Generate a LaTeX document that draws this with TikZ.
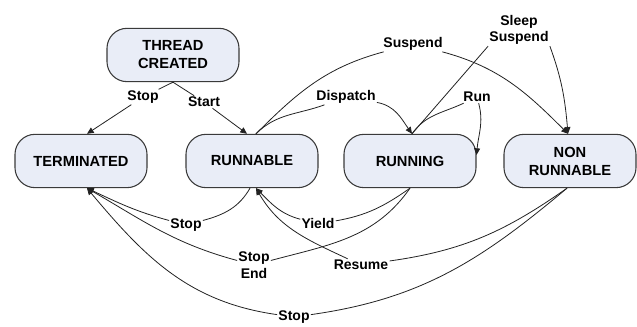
\documentclass[tikz,border=0pt]{standalone}
\usepackage{fontspec}
\setmainfont{Liberation Sans}
\usetikzlibrary{arrows.meta}
\definecolor{statefill}{HTML}{E9EDF7}
\definecolor{stateline}{HTML}{3A3A3A}
\definecolor{edgeline}{HTML}{222222}
\tikzset{
  statebox/.style={draw=stateline, line width=0.8pt, fill=statefill, rounded corners=15pt,
    minimum width=99pt, minimum height=40pt, align=center, inner sep=2pt,
    font=\fontsize{11}{13.5}\selectfont\bfseries},
  lbl/.style={fill=white, inner sep=0.8pt, align=center,
    font=\fontsize{10.5}{12.5}\selectfont\bfseries},
  edge/.style={draw=edgeline, line width=0.6pt, -{Triangle[length=5pt,width=4.5pt]}}
}
\begin{document}
\begin{tikzpicture}[x=0.75pt,y=0.75pt]
\useasboundingbox (0,0) rectangle (637,327);
% states
\node[statebox] (tc) at (173,272) {THREAD\\CREATED};
\node[statebox] (term) at (81,166) {TERMINATED};
\node[statebox] (runa) at (252,166) {RUNNABLE};
\node[statebox] (runi) at (410,166) {RUNNING};
\node[statebox] (nonr) at (570,166) {NON\\RUNNABLE};
% labels
\node[lbl] (ls1) at (143,230) {Stop};
\node[lbl] (lst) at (204,225) {Start};
\node[lbl] (ld) at (346,230) {Dispatch};
\node[lbl] (lsu) at (413,283) {Suspend};
\node[lbl] (lr) at (477,230) {Run};
\node[lbl] (lss) at (519,297) {Sleep\\Suspend};
\node[lbl] (ly) at (318,103) {Yield};
\node[lbl] (lre) at (361,62) {Resume};
\node[lbl] (lse) at (254,62) {Stop\\End};
\node[lbl] (ls2) at (186,102) {Stop};
\node[lbl] (ls3) at (294,10) {Stop};
% anchor points
\coordinate (termT) at ([xshift=4.5pt]term.north);
\coordinate (termB) at ([xshift=4.5pt]term.south);
\coordinate (runaTL) at ([xshift=-3.75pt]runa.north);
\coordinate (runaTR) at ([xshift=3pt]runa.north);
\coordinate (runaB) at ([xshift=3pt]runa.south);
\coordinate (runaBL) at ([xshift=-1.5pt]runa.south);
\coordinate (runiT) at ([xshift=1.5pt]runi.north);
\coordinate (runiB) at (runi.south);
\coordinate (runiE) at ([yshift=4.5pt]runi.east);
\coordinate (nonrT) at ([xshift=-1.5pt]nonr.north);
\coordinate (nonrB) at ([xshift=-2.25pt]nonr.south);
% edges
\draw[edge] (tc.south) -- (ls1) -- (termT);
\draw[edge] (tc.south) -- (lst) -- (runaTL);
\draw[edge] (runaTR) to[out=45,in=200] (ld) to[out=-10,in=125] (runiT);
\draw[edge] (runaTR) to[out=45,in=195] (lsu) to[out=-15,in=135] (nonrT);
\draw[edge] (runiT) to[out=55,in=205] (lr) to[out=-75,in=85] (runiE);
\draw[edge] (runiT) -- (lss.south west) (lss.south east) to[out=-70,in=95] (nonrT);
\draw[edge] (runiB) to[out=215,in=10] (ly) to[out=165,in=-45] (runaB);
\draw[edge] (nonrB) to[out=215,in=8] (lre) to[out=155,in=-60] (runaB);
\draw[edge] (runiB) to[out=235,in=15] (lse) to[out=165,in=-30] (termB);
\draw[edge] (runaBL) to[out=240,in=15] (ls2) to[out=165,in=-25] (termB);
\draw[edge] (nonrB) to[out=220,in=8] (ls3) to[out=172,in=-50] (termB);
\end{tikzpicture}
\end{document}
